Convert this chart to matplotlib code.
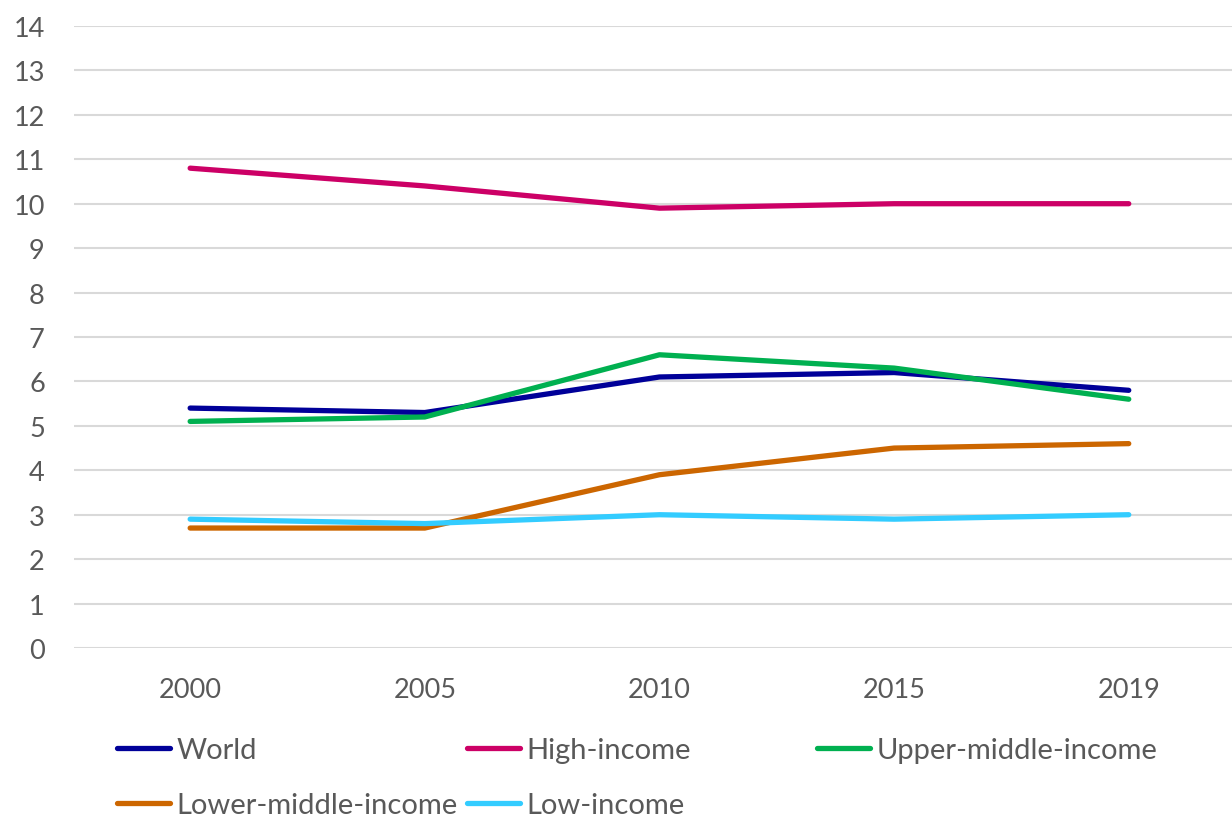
import matplotlib
matplotlib.use("Agg")
import matplotlib.pyplot as plt

years = ["2000", "2005", "2010", "2015", "2019"]
world = [5.4, 5.3, 6.1, 6.2, 5.8]
high_income = [10.8, 10.4, 9.9, 10.0, 10.0]
upper_middle = [5.1, 5.2, 6.6, 6.3, 5.6]
lower_middle = [2.7, 2.7, 3.9, 4.5, 4.6]
low_income = [2.9, 2.8, 3.0, 2.9, 3.0]

series = [
    ("World", world, "#000099"),
    ("High-income", high_income, "#CC0066"),
    ("Upper-middle-income", upper_middle, "#00B050"),
    ("Lower-middle-income", lower_middle, "#CC6600"),
    ("Low-income", low_income, "#33CCFF"),
]

plt.rcParams['font.family'] = ['Lato', 'DejaVu Sans']
text_color = "#595959"
fs = 19.5
lfs = 21

fig = plt.figure(figsize=(12.32, 8.2), dpi=100)
ax = fig.add_axes([74/1232, 1-649/820, 1-74/1232, (649-27)/820])

x = list(range(len(years)))
lines = []
for name, vals, col in series:
    ln, = ax.plot(x, vals, color=col, lw=3.8, solid_capstyle='round', solid_joinstyle='round', label=name, zorder=3)
    lines.append(ln)

ax.set_ylim(0, 14)
ax.set_yticks(range(0, 15))
ax.set_xlim(-0.495, 4.44)
ax.set_xticks(x)
ax.set_xticklabels(years)
ax.grid(axis='y', color='#D9D9D9', lw=1.5)
ax.set_axisbelow(True)
for s in ax.spines.values():
    s.set_visible(False)
ax.tick_params(axis='both', length=0, labelsize=fs, labelcolor=text_color)
ax.tick_params(axis='y', pad=21)
ax.tick_params(axis='x', pad=21)

positions = [(117, 751), (467, 751), (817, 751), (117, 806), (467, 806)]
for ln, (px, py) in zip(lines, positions):
    fig.legend([ln], [ln.get_label()], loc='center left',
               bbox_to_anchor=(px/1232, 1-py/820), frameon=False,
               handlelength=53/(lfs*100/72), handletextpad=0.22, borderpad=0, borderaxespad=0,
               fontsize=lfs, labelcolor=text_color)

fig.savefig("out.png", dpi=100)
